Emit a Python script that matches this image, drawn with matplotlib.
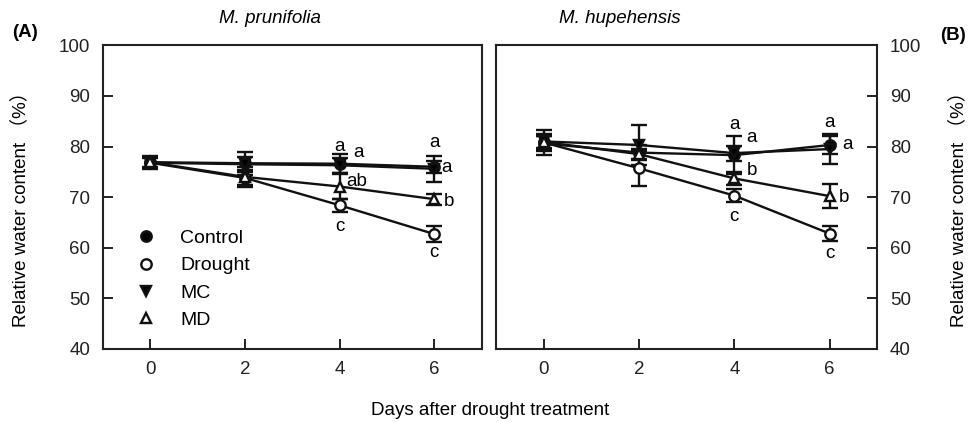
import matplotlib.pyplot as plt
from matplotlib.lines import Line2D

plt.rcParams["font.family"] = ["Liberation Sans", "Noto Sans CJK SC"]

days = [0, 2, 4, 6]
series_names = ["Control", "Drought", "MC", "MD"]

# M. prunifolia
pru_control = [76.9, 76.7, 76.6, 76.0]
pru_control_err = [1.2, 2.3, 1.9, 1.2]
pru_drought = [76.8, 73.8, 68.4, 62.7]
pru_drought_err = [1.0, 1.5, 1.3, 1.6]
pru_mc = [76.8, 76.5, 76.3, 75.6]
pru_mc_err = [1.2, 1.5, 1.5, 2.6]
pru_md = [76.9, 74.0, 72.1, 69.6]
pru_md_err = [1.0, 2.0, 2.4, 1.1]

# M. hupehensis
hup_control = [80.6, 78.8, 78.3, 80.3]
hup_control_err = [1.5, 1.5, 3.8, 1.8]
hup_drought = [80.8, 75.7, 70.3, 62.8]
hup_drought_err = [2.5, 3.5, 1.3, 1.5]
hup_mc = [81.0, 80.3, 78.7, 79.5]
hup_mc_err = [1.5, 4.0, 1.5, 3.0]
hup_md = [80.9, 78.5, 73.7, 70.2]
hup_md_err = [1.2, 1.0, 1.3, 2.3]

# significance letters: (day, y, letter)
pru_letters = [(4, 80.0, "a"), (4.39, 78.9, "a"), (4.37, 73.1, "ab"), (4, 64.2, "c"),
               (6, 80.7, "a"), (6.26, 75.8, "a"), (6.31, 69.1, "b"), (6, 59.0, "c")]
hup_letters = [(4, 84.3, "a"), (4.36, 81.8, "a"), (4.37, 75.2, "b"), (4, 66.1, "c"),
               (6, 84.7, "a"), (6.37, 80.3, "a"), (6.3, 69.9, "b"), (6, 58.9, "c")]

styles = {
    "Control": dict(marker="o", mfc="black"),
    "Drought": dict(marker="o", mfc="white"),
    "MC": dict(marker="v", mfc="black"),
    "MD": dict(marker="^", mfc="white"),
}

fig = plt.figure(figsize=(9.68, 4.22), dpi=100)
ax1 = fig.add_axes([0.1061, 0.173, 0.3915, 0.7197])
ax2 = fig.add_axes([0.5124, 0.173, 0.3939, 0.7197])

fs = 13.5
ink = "#111111"


def draw_panel(ax, data, letters):
    for name, (vals, errs) in zip(series_names, data):
        ax.errorbar(days, vals, yerr=errs, color=ink, lw=1.7,
                    elinewidth=1.7, capsize=6, capthick=2.2,
                    markersize=7.5, mec=ink, mew=1.7, **styles[name])
    for x, y, t in letters:
        ax.text(x, y, t, fontsize=fs, ha="center", va="center")
    ax.set_xlim(-1, 7)
    ax.set_ylim(40, 100)
    ax.set_xticks(days)
    ax.set_yticks(range(40, 101, 10))
    for s in ax.spines.values():
        s.set_linewidth(1.5)
        s.set_color("#222222")
    ax.tick_params(direction="in", length=7, width=1.4, labelsize=fs,
                   color="#222222", labelcolor="#222222")
    ax.tick_params(axis="x", pad=9)


draw_panel(ax1, [(pru_control, pru_control_err), (pru_drought, pru_drought_err),
                 (pru_mc, pru_mc_err), (pru_md, pru_md_err)], pru_letters)
draw_panel(ax2, [(hup_control, hup_control_err), (hup_drought, hup_drought_err),
                 (hup_mc, hup_mc_err), (hup_md, hup_md_err)], hup_letters)

ax1.tick_params(axis="y", pad=9)
ax2.yaxis.tick_right()
ax2.tick_params(axis="y", pad=9)

# marker-only legend entries
handles = [Line2D([], [], linestyle="none", color=ink, mec=ink, mew=1.7,
                  markersize=7.5, **styles[n]) for n in series_names]
ax1.legend(handles, series_names, loc="lower left", bbox_to_anchor=(0.043, 0.008),
           frameon=False, fontsize=14, handletextpad=1.25, labelspacing=0.5,
           handlelength=1.0)

fig.text(0.279, 0.955, "M. prunifolia", fontsize=fs, style="italic",
         ha="center", va="center")
fig.text(0.64, 0.955, "M. hupehensis", fontsize=fs, style="italic",
         ha="center", va="center")
fig.text(0.013, 0.922, "(A)", fontsize=fs, weight="bold", va="center")
fig.text(0.971, 0.917, "(B)", fontsize=fs, weight="bold", va="center")
fig.text(0.506, 0.028, "Days after drought treatment", fontsize=fs,
         ha="center", va="center")
fig.text(0.021, 0.514, "Relative water content （%）", fontsize=fs,
         rotation=90, ha="center", va="center")
fig.text(0.99, 0.514, "Relative water content （%）", fontsize=fs,
         rotation=90, ha="center", va="center")

fig.savefig("out.png", dpi=100)
